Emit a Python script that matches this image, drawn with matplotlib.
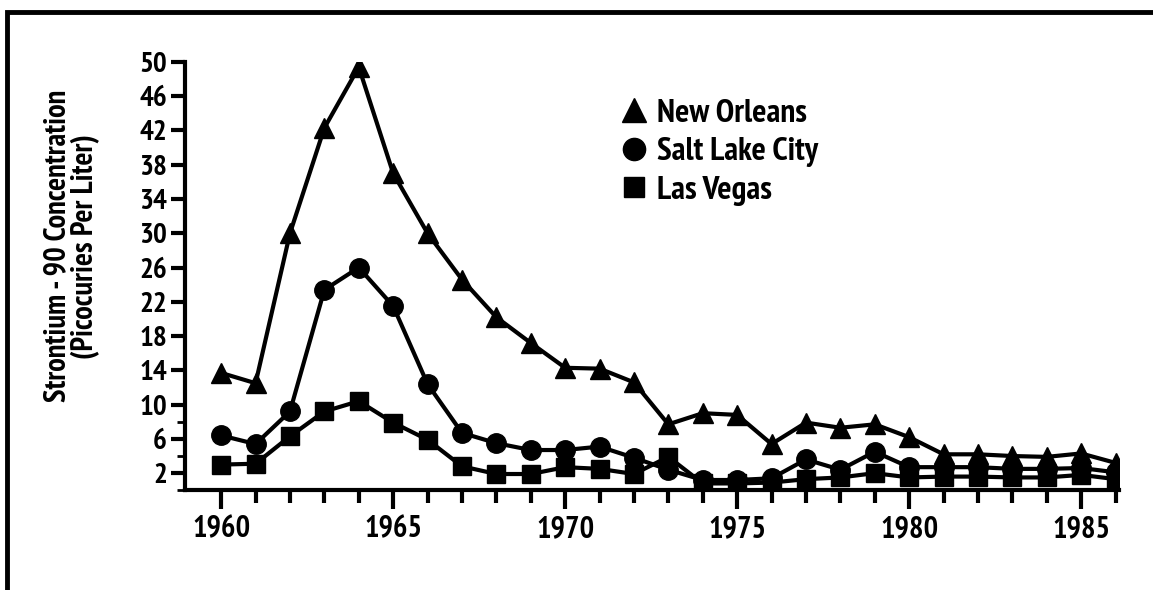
import numpy as np
import matplotlib
matplotlib.use('Agg')
import matplotlib.pyplot as plt
from matplotlib import font_manager
from matplotlib.lines import Line2D

years = list(range(1960, 1987))
new_orleans = [13.7, 12.5, 30.0, 42.3, 49.4, 37.0, 30.0, 24.6, 20.2, 17.2,
               14.3, 14.2, 12.6, 7.7, 9.0, 8.8, 5.4, 7.9, 7.3, 7.7,
               6.2, 4.2, 4.2, 4.0, 3.9, 4.3, 3.2]
salt_lake = [6.4, 5.4, 9.2, 23.4, 26.0, 21.5, 12.4, 6.7, 5.5, 4.7,
             4.7, 5.1, 3.8, 2.4, 1.2, 1.2, 1.4, 3.6, 2.4, 4.5,
             2.7, 2.7, 2.7, 2.5, 2.5, 2.6, 2.1]
las_vegas = [3.0, 3.1, 6.3, 9.2, 10.4, 7.9, 5.9, 2.8, 1.9, 1.9,
             2.7, 2.5, 1.9, 3.9, 0.8, 0.8, 0.9, 1.3, 1.5, 2.0,
             1.5, 1.6, 1.6, 1.5, 1.5, 1.8, 1.3]

y_ticks = list(range(2, 51, 4))
x_ticks = [1960, 1965, 1970, 1975, 1980, 1985]


# look for a narrow bold face, the original uses a condensed grotesque
def find_narrow():
    best = None
    for f in font_manager.fontManager.ttflist:
        key = (f.name + ' ' + f.fname + ' ' + str(f.stretch)).lower()
        if ('narrow' in key or 'condensed' in key) and 'oblique' not in key \
                and 'italic' not in key and f.style == 'normal':
            w = f.weight if isinstance(f.weight, int) else 700
            score = abs(w - 750)
            if 'narrow' in key:
                score -= 1
            if best is None or score < best[0]:
                best = (score, f.fname)
    return best[1] if best else None


narrow = find_narrow()
if narrow:
    fp = font_manager.FontProperties(fname=narrow)
else:
    fp = font_manager.FontProperties(family='DejaVu Sans', weight='bold')


def fprop(size):
    p = fp.copy()
    p.set_size(size)
    if not narrow:
        p.set_weight('bold')
    return p


fig = plt.figure(figsize=(11.53, 5.90), dpi=100)
ax = fig.add_axes([0.1605, 0.169, 0.81, 0.726])

ax.plot(years, las_vegas, color='black', lw=3, marker='s', ms=13, zorder=3)
ax.plot(years, salt_lake, color='black', lw=3, marker='o', ms=14, zorder=4)
ax.plot(years, new_orleans, color='black', lw=3, marker='^', ms=15, zorder=5)

ax.set_xlim(1958.95, 1986.1)
ax.set_ylim(0, 50)
ax.spines['top'].set_visible(False)
ax.spines['right'].set_visible(False)
ax.spines['left'].set_linewidth(3)
ax.spines['bottom'].set_linewidth(3)

ax.set_yticks(y_ticks)
ax.set_yticks([0, 4, 8], minor=True)
ax.set_xticks(x_ticks)
ax.set_xticks([y for y in years if y not in x_ticks], minor=True)
ax.tick_params(axis='y', which='major', length=10, width=3, pad=3)
ax.tick_params(axis='y', which='minor', length=6, width=2)
ax.tick_params(axis='x', which='major', length=14, width=3, pad=4)
ax.tick_params(axis='x', which='minor', length=9, width=3)
for t in ax.get_yticklabels():
    t.set_fontproperties(fprop(21))
for t in ax.get_xticklabels():
    t.set_fontproperties(fprop(22))

ax.set_ylabel('Strontium - 90 Concentration\n(Picocuries Per Liter)',
              fontproperties=fprop(22), linespacing=1.0)
ax.yaxis.set_label_coords(-0.091, 0.57)

handles = [Line2D([], [], color='black', ls='none', marker='^', ms=17),
           Line2D([], [], color='black', ls='none', marker='o', ms=16),
           Line2D([], [], color='black', ls='none', marker='s', ms=15)]
labels = ['New Orleans', 'Salt Lake City', 'Las Vegas']
ax.legend(handles, labels, loc='upper left', bbox_to_anchor=(0.434, 0.985),
          frameon=False, prop=fprop(24), handlelength=0.8,
          handletextpad=0.3, labelspacing=0.25)

# frame on top and left edge of the page
fig.add_artist(Line2D([0.0065, 0.0065, 1.0], [0.0, 0.9805, 0.9805],
                      transform=fig.transFigure, color='black', lw=3.5,
                      solid_joinstyle='miter'))

fig.savefig('out.png', dpi=100)
